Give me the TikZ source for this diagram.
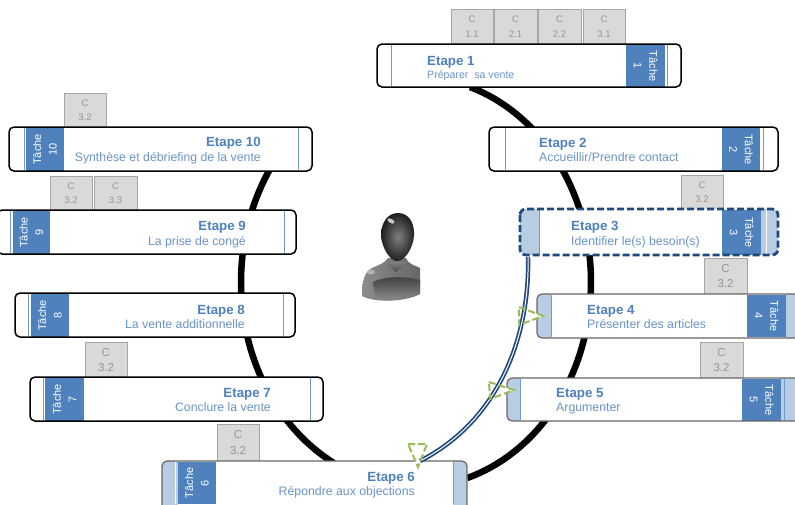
\documentclass[tikz,border=0pt]{standalone}
\usepackage{fontspec}
\setmainfont{Liberation Sans}
\definecolor{tblue}{HTML}{4F81BD}
\definecolor{stripb}{HTML}{B8CCE4}
\definecolor{navy}{HTML}{1F497D}
\definecolor{cgrey}{HTML}{D9D9D9}
\definecolor{cedge}{HTML}{A6A6A6}
\definecolor{ctext}{HTML}{969696}
\definecolor{sgreen}{HTML}{9BBB59}
\tikzset{
  stepframe/.style={rounded corners=5pt,line width=1.5pt,draw=black},
  stepframegrey/.style={rounded corners=5pt,line width=1.2pt,draw=black!60},
  stepdash/.style={rounded corners=6pt,line width=2.8pt,draw=navy,dash pattern=on 7pt off 3pt},
  tachebox/.style={fill=tblue,draw=none,inner sep=0pt},
  ctag/.style={fill=cgrey,draw=cedge,line width=0.8pt,inner sep=0pt},
  ringline/.style={line width=6.5pt,black},
  greentri/.style={draw=sgreen,line width=2pt,dash pattern=on 7pt off 3pt,line join=miter},
  headtxt/.style={inner sep=0pt,text=tblue,font=\bfseries\fontsize{13.3}{15}\selectfont,anchor=base west},
  subtxt/.style={inner sep=0pt,text=tblue!85,font=\fontsize{12.3}{14}\selectfont,anchor=base west},
  vline/.style={line width=0.8pt,tblue!80}
}
\newcommand{\stepshape}[5]{%
  \path[fill=white,rounded corners=5pt] (#2,#3) rectangle (#4,#5);
  \coordinate (#1) at ({(#2+#4)/2},{(#3+#5)/2});}
\newcommand{\lstrip}[5]{%
  \begin{scope}\clip[rounded corners=5pt] (#1,#2) rectangle (#3,#4);
  \fill[stripb] (#1,#2) rectangle (#5,#4);\end{scope}}
\newcommand{\rstrip}[5]{%
  \begin{scope}\clip[rounded corners=5pt] (#1,#2) rectangle (#3,#4);
  \fill[stripb] (#5,#2) rectangle (#3,#4);\end{scope}}
\newcommand{\vl}[3]{\draw[vline] (#1,#2) -- (#1,#3);}
\newcommand{\tache}[7]{\node[tachebox,minimum width=#3pt-#2pt,minimum height=#5pt-#4pt,anchor=center] (#1) at ({(#2+#3)/2},{(#4+#5)/2}) {};
  \node[text=white,inner sep=0pt,align=center,font=\fontsize{11}{15.5}\selectfont,rotate=#6] (#1t) at (#1) {Tâche\\#7};}
\newcommand{\ctagbox}[7]{\node[ctag,minimum width=#3pt-#2pt,minimum height=#5pt-#4pt] (#1) at ({(#2+#3)/2},{(#4+#5)/2}) {};
  \node[inner sep=0pt,text=ctext,font=\fontsize{#7}{12}\selectfont,anchor=center] (#1a) at ({(#2+#3)/2},{#4+0.29*(#5-#4)}) {C};
  \node[inner sep=0pt,text=ctext,font=\fontsize{#7}{12}\selectfont,anchor=center] (#1b) at ({(#2+#3)/2},{#4+0.72*(#5-#4)}) {#6};}
\begin{document}
\begin{tikzpicture}[x=1pt,y=-1pt]
\useasboundingbox (0,0) rectangle (795,504);
\clip (0,0) rectangle (795,504);
\fill[white] (0,0) rectangle (795,504);
\draw[ringline] plot[domain=-73:72,samples=70] ({416+175*cos(\x)},{282-205*sin(\x)});
\draw[ringline] plot[domain=146:242,samples=50] ({416+175*cos(\x)},{282-205*sin(\x)});
\ctagbox{c11}{451}{493}{9}{44}{1.1}{9.5}
\ctagbox{c21}{494}{537}{9}{44}{2.1}{9.5}
\ctagbox{c22}{538}{581}{9}{44}{2.2}{9.5}
\ctagbox{c31}{583}{625}{9}{44}{3.1}{9.5}
\ctagbox{c2}{681}{723}{175}{209}{3.2}{9.5}
\ctagbox{c4}{704}{747}{258}{294}{3.2}{11.5}
\ctagbox{c5}{700}{743}{342}{378}{3.2}{11.5}
\ctagbox{c10}{64}{106}{93}{127}{3.2}{9.5}
\ctagbox{c9a}{50}{92}{176}{210}{3.2}{9.5}
\ctagbox{c9b}{94}{137}{176}{210}{3.3}{9.5}
\ctagbox{c8}{85}{127}{342}{377}{3.2}{11.5}
\ctagbox{c7}{217}{259}{424}{461}{3.2}{11.5}
% Etape 1
\stepshape{e1}{377}{44}{681}{87}
\vl{391}{45}{86}\vl{667}{45}{86}
\tache{t1}{626}{665}{45}{87}{-90}{1}
\draw[stepframe] (377,44) rectangle (681,87);
\node[headtxt] (e1h) at (427,65) {Etape 1};
\node[subtxt,font=\fontsize{10.6}{13}\selectfont] (e1s) at (427,78) {Préparer\ \ sa vente};
% Etape 2
\stepshape{e2}{489}{127}{778}{171}
\vl{505}{128}{170}\vl{763}{128}{170}
\tache{t2}{722}{760}{128}{171}{-90}{2}
\draw[stepframe] (489,127) rectangle (778,171);
\node[headtxt] (e2h) at (539,147) {Etape 2};
\node[subtxt] (e2s) at (539,161) {Accueillir/Prendre contact};
% Etape 10
\stepshape{e10}{9}{127}{312}{171}
\vl{24}{128}{170}\vl{298}{128}{170}
\tache{t10}{26}{64}{128}{171}{90}{10}
\draw[stepframe] (9,127) rectangle (312,171);
\node[headtxt,anchor=base east] (e10h) at (261,146) {Etape 10};
\node[subtxt,anchor=base east] (e10s) at (261,161) {Synthèse et débriefing de la vente};
% Etape 9
\stepshape{e9}{-3}{210}{296}{254}
\vl{10}{211}{253}\vl{284}{211}{253}
\tache{t9}{13}{50}{211}{254}{90}{9}
\draw[stepframe] (-3,210) rectangle (296,254);
\node[headtxt,anchor=base east] (e9h) at (246,230) {Etape 9};
\node[subtxt,anchor=base east] (e9s) at (246,245) {La prise de congé};
% Etape 8
\stepshape{e8}{15}{293}{295}{337}
\vl{28}{294}{336}\vl{283}{294}{336}
\tache{t8}{31}{69}{294}{337}{90}{8}
\draw[stepframe] (15,293) rectangle (295,337);
\node[headtxt,anchor=base east] (e8h) at (245,314) {Etape 8};
\node[subtxt,anchor=base east] (e8s) at (245,328) {La vente additionnelle};
% Etape 7
\stepshape{e7}{30}{377}{323}{421}
\vl{43}{378}{420}\vl{310}{378}{420}
\tache{t7}{45}{84}{378}{421}{90}{7}
\draw[stepframe] (30,377) rectangle (323,421);
\node[headtxt,anchor=base east] (e7h) at (271,397) {Etape 7};
\node[subtxt,anchor=base east] (e7s) at (271,411) {Conclure la vente};
% Etape 3
\stepshape{e3}{520}{209}{778}{255}
\lstrip{520}{209}{778}{255}{539}
\rstrip{520}{209}{778}{255}{761}
\draw[white,line width=1pt] (766,210) -- (766,254);
\tache{t3}{722}{761}{210}{255}{-90}{3}
\draw[vline] (539,210) -- (539,254);
\draw[stepdash] (520,209) rectangle (778,255);
\node[headtxt] (e3h) at (571,230) {Etape 3};
\node[subtxt] (e3s) at (571,245) {Identifier\ le(s) besoin(s)};
% Etape 4
\stepshape{e4}{537}{294}{810}{338}
\lstrip{537}{294}{810}{338}{551}
\rstrip{537}{294}{810}{338}{786}
\vl{551}{295}{337}
\tache{t4}{747}{786}{295}{337}{-90}{4}
\draw[stepframegrey] (537,294) rectangle (810,338);
\node[headtxt] (e4h) at (587,314) {Etape 4};
\node[subtxt] (e4s) at (587,328) {Présenter des articles};
% Etape 5
\stepshape{e5}{507}{378}{810}{421}
\lstrip{507}{378}{810}{421}{520}
\rstrip{507}{378}{810}{421}{781}
\vl{520}{379}{420}\vl{784}{379}{420}
\tache{t5}{742}{781}{379}{421}{-90}{5}
\draw[stepframegrey] (507,378) rectangle (810,421);
\node[headtxt] (e5h) at (556,397) {Etape 5};
\node[subtxt] (e5s) at (556,411) {Argumenter};
% Etape 6
\stepshape{e6}{162}{461}{467}{520}
\lstrip{162}{461}{467}{520}{178}
\rstrip{162}{461}{467}{520}{453}
\draw[white,line width=0.8pt] (175,462) -- (175,504);
\vl{453}{462}{504}
\tache{t6}{178}{216}{462}{504}{90}{6}
\draw[stepframegrey] (162,461) rectangle (467,520);
\node[headtxt,anchor=base east] (e6h) at (415,481) {Etape 6};
\node[subtxt,anchor=base east] (e6s) at (415,495) {Répondre aux objections};
% green triangles: white interior under the link
\fill[white] (519,307) -- (543,316) -- (519,325) -- cycle;
\fill[white] (489,382) -- (514,390) -- (490,399) -- cycle;
\fill[white] (408,444) -- (427,444) -- (418,467) -- cycle;
% double link
\coordinate (linkA) at (528,257);
\coordinate (linkB) at (420,461);
\draw[navy,line width=4.4pt] (linkA) .. controls (530,335) and (500,420) .. (linkB);
\draw[white,line width=1pt] (linkA) .. controls (530,335) and (500,420) .. (linkB);
\draw[greentri] (519,307) -- (543,316) -- (519,325) -- cycle;
\draw[greentri] (489,382) -- (514,390) -- (490,399) -- cycle;
\draw[greentri] (408,444) -- (427,444) -- (418,467) -- cycle;
% person
\path[left color=black!45,middle color=black!82,right color=black!60]
    (362,296) .. controls (362,282) and (364,272) .. (372,268)
    .. controls (378,265) and (384,264) .. (388,258) -- (406,258)
    .. controls (408,264) and (414,265) .. (420,268) -- (420,294)
    .. controls (405,302) and (375,303) .. (362,296) -- cycle;
\path[top color=black!75,bottom color=black!45]
    (373,282) .. controls (385,276) and (405,276) .. (420,280)
    -- (420,293) .. controls (412,298) and (396,301) .. (382,300)
    .. controls (375,295) and (373,290) .. (373,282) -- cycle;
\fill[black!30] (371,272) ellipse (4pt and 2.5pt);
\path[top color=black!50,bottom color=black!70] (384,262) -- (408,262) -- (396,272) -- cycle;
\path[inner color=black!50,outer color=black!88]
    (381,236) .. controls (381,222) and (388,213) .. (398,213)
    .. controls (408,213) and (415,222) .. (414,236)
    .. controls (413,248) and (405,261) .. (397,261)
    .. controls (390,261) and (382,248) .. (381,236) -- cycle;
\fill[black!22,rotate around={-30:(391,221)}] (391,221) ellipse (4pt and 2pt);
\end{tikzpicture}
\end{document}
